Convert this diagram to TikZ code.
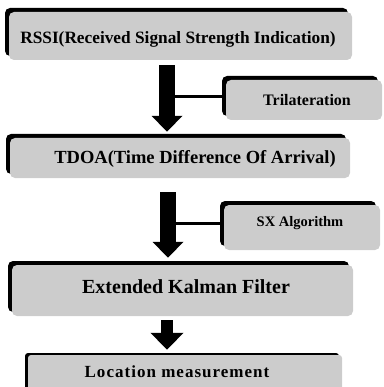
\documentclass[tikz,border=0pt]{standalone}
\usepackage{fontspec}
\setmainfont{Liberation Serif}
\usetikzlibrary{shadows,arrows.meta,calc}
\definecolor{boxgray}{gray}{0.80}
\begin{document}
\begin{tikzpicture}[x=1pt,y=-1pt,
  box/.style={fill=boxgray, rounded corners=5pt, inner sep=0pt,
    general shadow={fill=black, shadow xshift=-4pt, shadow yshift=4pt}},
  thinbox/.style={fill=boxgray, rounded corners=3pt, inner sep=0pt,
    general shadow={fill=black, shadow xshift=-3pt, shadow yshift=2pt}},
  lbl/.style={inner sep=0pt, font=\bfseries},
  bigarrow/.style={line width=16pt, black, -{Triangle[width=30pt,length=16pt]}},
  smallarrow/.style={line width=12pt, black, -{Triangle[width=32pt,length=17pt]}},
  link/.style={line width=3pt, black}]
\useasboundingbox (0,0) rectangle (383,387);
% boxes
\node[box, minimum width=343pt, minimum height=48pt] (rssi) at (180.5,36) {};
\node[box, minimum width=156pt, minimum height=40pt] (tri) at (304,100) {};
\node[box, minimum width=340pt, minimum height=40pt] (tdoa) at (180,158) {};
\node[box, minimum width=156pt, minimum height=45pt] (sx) at (302,227.5) {};
\node[box, minimum width=341pt, minimum height=51pt] (ekf) at (182.5,290.5) {};
\node[thinbox, minimum width=314pt, minimum height=40pt] (loc) at (185,375) {};
% labels
\node[lbl, font=\bfseries\fontsize{17.3}{19}\selectfont] (rssit) at (178,39.5) {RSSI(Received Signal Strength Indication)};
\node[lbl, font=\bfseries\fontsize{16}{18}\selectfont] (trit) at (307,100) {Trilateration};
\node[lbl, font=\bfseries\fontsize{18.5}{21}\selectfont] (tdoat) at (195,159) {TDOA(Time Difference Of Arrival)};
\node[lbl, font=\bfseries\fontsize{14.5}{16}\selectfont] (sxt) at (300,223) {SX Algorithm};
\node[lbl, font=\bfseries\fontsize{20}{22}\selectfont] (ekft) at (186,287) {Extended Kalman Filter};
\node[lbl, font=\bfseries\fontsize{17}{19}\selectfont\addfontfeatures{LetterSpace=6}] (loct) at (177,372) {Location measurement};
% columns
\coordinate (c1) at (167,0);
\coordinate (c2) at (168,0);
\coordinate (c3) at (167,0);
% side connectors
\draw[link] ($(tri.west)+(0,-3)$) -- ($(tri.west -| c1)+(0,-3)$);
\draw[link] ($(sx.west)+(0,-4.5)$) -- ($(sx.west -| c2)+(0,-4.5)$);
% arrows
\draw[bigarrow] ($(rssi.south -| c1)+(0,5)$) -- ($(tdoa.north -| c1)+(0,-6)$);
\draw[bigarrow] ($(tdoa.south -| c2)+(0,14)$) -- ($(ekf.north -| c2)+(0,-7)$);
\draw[smallarrow] ($(ekf.south -| c3)+(0,4)$) -- ($(loc.north -| c3)+(0,-5)$);
\end{tikzpicture}
\end{document}
